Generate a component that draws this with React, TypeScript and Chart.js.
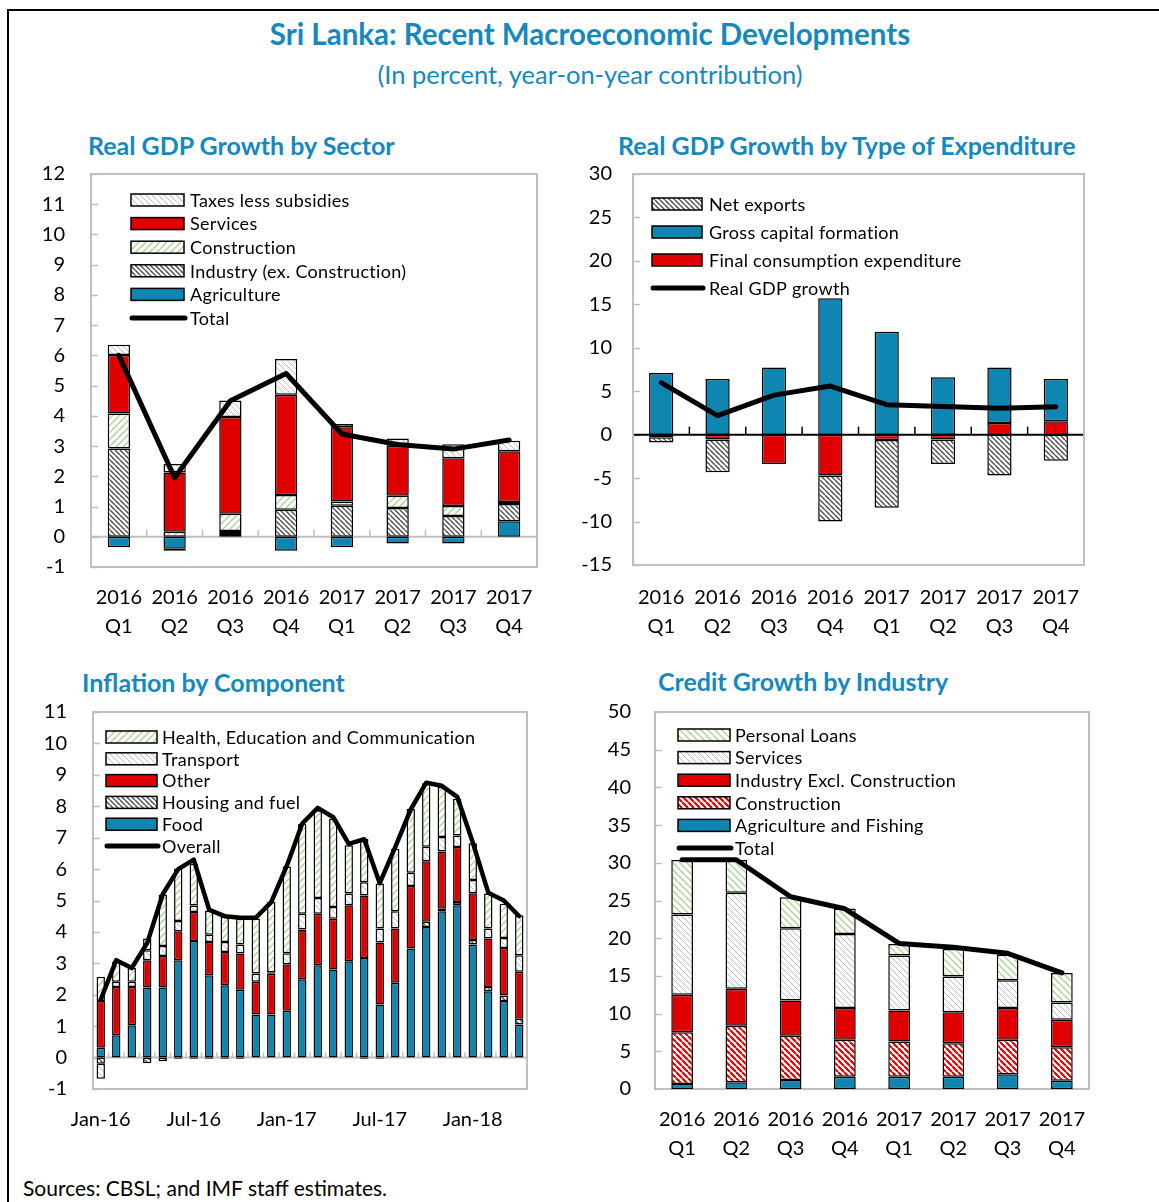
import React, { useEffect, useRef } from 'react';
import { Chart, registerables } from 'chart.js';

Chart.register(...registerables);

// ---------------- Data ----------------
const quarterYears = ['2016', '2016', '2016', '2016', '2017', '2017', '2017', '2017'];
const quarterNames = ['Q1', 'Q2', 'Q3', 'Q4', 'Q1', 'Q2', 'Q3', 'Q4'];

// Real GDP growth by sector
const sectorAgriculture = [-0.35, -0.4, 0.09, -0.46, -0.35, -0.22, -0.22, 0.51];
const sectorIndustry = [2.92, -0.06, 0.1, 0.89, 1.03, 0.95, 0.69, 0.57];
const sectorConstruction = [1.16, 0.17, 0.57, 0.49, 0.14, 0.41, 0.33, 0.07];
const sectorServices = [1.93, 1.96, 3.2, 3.32, 2.45, 1.65, 1.58, 1.68];
const sectorTaxes = [0.34, 0.28, 0.55, 1.18, 0.11, 0.24, 0.46, 0.35];
const sectorTotal = [6.0, 1.95, 4.5, 5.4, 3.4, 3.05, 2.9, 3.2];

// Real GDP growth by type of expenditure
const expFinalConsumption = [-0.3, -0.57, -3.37, -4.7, -0.6, -0.57, 1.34, 1.53];
const expCapitalFormation = [7.09, 6.4, 7.74, 15.7, 11.84, 6.6, 6.4, 4.87];
const expNetExports = [-0.6, -3.75, null, -5.3, -7.8, -2.8, -4.7, -3.0];
const expGdpGrowth = [6.0, 2.2, 4.55, 5.6, 3.45, 3.25, 3.05, 3.2];

// Inflation by component (monthly)
const months = [
  'Jan-16', 'Feb-16', 'Mar-16', 'Apr-16', 'May-16', 'Jun-16', 'Jul-16', 'Aug-16', 'Sep-16', 'Oct-16', 'Nov-16', 'Dec-16',
  'Jan-17', 'Feb-17', 'Mar-17', 'Apr-17', 'May-17', 'Jun-17', 'Jul-17', 'Aug-17', 'Sep-17', 'Oct-17', 'Nov-17', 'Dec-17',
  'Jan-18', 'Feb-18', 'Mar-18', 'Apr-18',
];
const monthTickLabels = ['Jan-16', 'Jul-16', 'Jan-17', 'Jul-17', 'Jan-18'];
const infFood = [0.31, 0.71, 1.03, 2.23, 2.23, 3.1, 3.71, 2.62, 2.3, 2.16, 1.37, 1.37, 1.49, 2.49, 2.94, 2.8, 3.07, 3.17, 1.69, 2.38, 3.47, 4.16, 4.66, 4.85, 3.6, 2.11, 1.8, 1.05];
const infHousing = [-0.2, null, null, -0.18, -0.12, -0.04, -0.04, -0.04, -0.04, -0.04, null, null, null, null, null, null, null, -0.04, -0.04, null, null, 0.16, 0.08, 0.1, 0.14, 0.14, 0.18, 0.19];
const infOther = [1.49, 1.54, 1.22, 0.87, 1.0, 0.92, 0.92, 1.06, 1.06, 1.15, 1.04, 1.3, 1.48, 1.59, 1.64, 1.62, 1.78, 1.99, 1.97, 1.73, 1.99, 1.93, 1.82, 1.75, 1.49, 1.54, 1.51, 1.49];
const infTransport = [-0.47, 0.16, 0.16, 0.32, 0.32, 0.33, 0.21, 0.23, 0.32, 0.29, 0.27, 0.05, 0.35, 0.5, 0.5, 0.37, 0.37, 0.42, 0.45, 0.55, 0.42, 0.46, 0.46, 0.37, 0.42, 0.32, 0.32, 0.53];
const infHealth = [0.77, 0.64, 0.45, 0.37, 1.64, 1.67, 1.33, 0.77, 0.8, 0.83, 1.75, 2.23, 2.76, 2.86, 2.79, 2.81, 1.54, 1.38, 1.43, 1.99, 2.04, 2.02, 1.59, 1.17, 1.17, 1.11, 1.09, 1.27];
const infOverall = [1.85, 3.1, 2.85, 3.65, 5.2, 6.0, 6.3, 4.7, 4.5, 4.45, 4.45, 4.95, 6.1, 7.45, 7.95, 7.65, 6.8, 6.95, 5.55, 6.7, 7.9, 8.75, 8.65, 8.3, 6.85, 5.25, 5.0, 4.5];

// Credit growth by industry
const crAgriculture = [0.66, 0.89, 1.2, 1.64, 1.64, 1.64, 1.95, 1.11];
const crConstruction = [6.87, 7.49, 5.85, 4.88, 4.65, 4.43, 4.57, 4.43];
const crIndustry = [4.96, 4.92, 4.7, 4.21, 4.12, 4.12, 4.21, 3.63];
const crServices = [10.64, 12.72, 9.57, 9.84, 7.31, 4.74, 3.68, 2.3];
const crPersonal = [7.23, 4.34, 4.12, 3.37, 1.51, 3.63, 3.41, 3.9];
const crTotal = [30.4, 30.4, 25.5, 23.9, 19.3, 18.8, 18.0, 15.4];

// ---------------- Styles ----------------
const FONT = "Lato, 'Open Sans', sans-serif";
const BLUE = '#0F86B2';
const RED = '#E00000';
const TITLE_COLOR = '#1589BF';
const BOX_GRAY = '#BFBFBF';

function hatch(bg: string, fg: string, lw: number, size: number, dir: 'back' | 'fwd'): CanvasPattern | string {
  const c = document.createElement('canvas');
  c.width = size;
  c.height = size;
  const ctx = c.getContext('2d');
  if (!ctx) return bg;
  ctx.fillStyle = bg;
  ctx.fillRect(0, 0, size, size);
  ctx.strokeStyle = fg;
  ctx.lineWidth = lw;
  ctx.beginPath();
  for (const o of [-size, 0, size]) {
    if (dir === 'back') {
      ctx.moveTo(o, 0);
      ctx.lineTo(o + size, size);
    } else {
      ctx.moveTo(o, size);
      ctx.lineTo(o + size, 0);
    }
  }
  ctx.stroke();
  return ctx.createPattern(c, 'repeat') || bg;
}

function makePatterns() {
  return {
    light: hatch('#FFFFFF', '#BDBDBD', 1, 6, 'back'),
    dark: hatch('#FFFFFF', '#4D4D4D', 1.4, 5, 'back'),
    greenFwd: hatch('#FFFFFF', '#A9D18E', 1.3, 7, 'fwd'),
    greenBack: hatch('#FFFFFF', '#A9D18E', 1.3, 7, 'back'),
    redHatch: hatch('#FFFFFF', RED, 2.2, 6, 'back'),
  };
}

type LegendItem = { label: string; fill?: any; kind: 'box' | 'line' };

function legendPlugin(cfg: { x: number; y: number; w: number; h: number; gap: number; textX: number; fontSize: number; items: LegendItem[] }) {
  return {
    id: 'customLegend',
    afterDraw(chart: any) {
      const ctx = chart.ctx as any;
      ctx.save();
      ctx.font = `${cfg.fontSize}px ${FONT}`;
      ctx.textBaseline = 'middle';
      ctx.textAlign = 'left';
      try { ctx.letterSpacing = '0.3px'; } catch (e) { /* ignore */ }
      cfg.items.forEach((it, i) => {
        const cy = cfg.y + i * cfg.gap;
        if (it.kind === 'line') {
          ctx.strokeStyle = '#000';
          ctx.lineWidth = 5;
          ctx.lineCap = 'round';
          ctx.beginPath();
          ctx.moveTo(cfg.x + 1, cy);
          ctx.lineTo(cfg.x + cfg.w + 1, cy);
          ctx.stroke();
        } else {
          ctx.fillStyle = it.fill;
          ctx.fillRect(cfg.x, cy - cfg.h / 2, cfg.w, cfg.h);
          ctx.strokeStyle = '#000';
          ctx.lineWidth = 1.5;
          ctx.strokeRect(cfg.x, cy - cfg.h / 2, cfg.w, cfg.h);
        }
        ctx.fillStyle = '#000';
        ctx.fillText(it.label, cfg.textX, cy + 1);
      });
      ctx.restore();
    },
  };
}

function framePlugin(cfg: { zeroColor: string; zeroWidth: number; catTicks: boolean; catTickLen: number; catTickColor: string }) {
  return {
    id: 'frameDecor',
    beforeDatasetsDraw(chart: any) {
      const ctx = chart.ctx as CanvasRenderingContext2D;
      const a = chart.chartArea;
      const xs = chart.scales.x;
      const ys = chart.scales.y;
      ctx.save();
      const seg = (x1: number, y1: number, x2: number, y2: number) => {
        ctx.beginPath();
        ctx.moveTo(x1, y1);
        ctx.lineTo(x2, y2);
        ctx.stroke();
      };
      ctx.strokeStyle = BOX_GRAY;
      ctx.lineWidth = 1.5;
      ys.ticks.forEach((t: any) => {
        const py = Math.round(ys.getPixelForValue(t.value)) + 0.5;
        seg(a.left, py, a.left + 7, py);
      });
      const zy = ys.getPixelForValue(0);
      if (cfg.catTicks) {
        ctx.strokeStyle = cfg.catTickColor;
        ctx.lineWidth = 1.5;
        const n = chart.data.labels.length;
        for (let i = 1; i < n; i++) {
          const px = (xs.getPixelForValue(i - 1) + xs.getPixelForValue(i)) / 2;
          seg(px, zy, px, zy - cfg.catTickLen);
        }
      }
      ctx.strokeStyle = cfg.zeroColor;
      ctx.lineWidth = cfg.zeroWidth;
      seg(a.left, zy, a.right, zy);
      ctx.strokeStyle = BOX_GRAY;
      ctx.lineWidth = 2;
      ctx.strokeRect(a.left, a.top, a.right - a.left, a.bottom - a.top);
      ctx.restore();
    },
  };
}

function barSet(label: string, data: (number | null)[], fill: any, pct: number) {
  return {
    type: 'bar' as const,
    label,
    data,
    backgroundColor: fill,
    borderColor: '#000',
    borderWidth: 1.5,
    borderSkipped: false,
    barPercentage: pct,
    categoryPercentage: 1,
    order: 1,
  };
}

function lineSet(label: string, data: number[], width = 5) {
  return {
    type: 'line' as const,
    label,
    data,
    borderColor: '#000',
    backgroundColor: '#000',
    borderWidth: width,
    pointRadius: 0,
    tension: 0,
    borderCapStyle: 'round',
    borderJoinStyle: 'round',
    stack: 'lineStack',
    order: 0,
  };
}

function baseOptions(o: {
  yMin: number; yMax: number; step: number; yWidth: number; xHeight: number; padTop: number; padRight: number;
  yPad: number; xPad: number; xCallback?: (v: any, i: number) => any;
}) {
  const xTicks: any = {
    color: '#000',
    font: { family: FONT, size: 20, lineHeight: 1.45 },
    padding: o.xPad,
    autoSkip: false,
    maxRotation: 0,
    minRotation: 0,
  };
  if (o.xCallback) xTicks.callback = o.xCallback;
  return {
    responsive: false,
    maintainAspectRatio: false,
    animation: false,
    devicePixelRatio: 1,
    layout: { padding: { top: o.padTop, right: o.padRight, left: 0, bottom: 0 } },
    plugins: { legend: { display: false }, tooltip: { enabled: false }, title: { display: false } },
    scales: {
      x: {
        stacked: true,
        grid: { display: false, drawTicks: false },
        border: { display: false },
        ticks: xTicks,
        afterFit: (s: any) => {
          s.height = o.xHeight;
          s.paddingLeft = 0;
          s.paddingRight = 0;
        },
      },
      y: {
        stacked: true,
        min: o.yMin,
        max: o.yMax,
        grid: { display: false, drawTicks: false },
        border: { display: false },
        ticks: { stepSize: o.step, color: '#000', font: { family: FONT, size: 20 }, padding: o.yPad },
        afterFit: (s: any) => {
          s.width = o.yWidth;
          s.paddingTop = 0;
          s.paddingBottom = 0;
        },
      },
    },
  };
}

const quarterLabels = () => quarterYears.map((y, i) => [y, quarterNames[i]]);

function sectorConfig(): any {
  const P = makePatterns();
  const pct = 0.4;
  return {
    type: 'bar',
    data: {
      labels: quarterLabels(),
      datasets: [
        barSet('Agriculture', sectorAgriculture, BLUE, pct),
        barSet('Industry (ex. Construction)', sectorIndustry, P.dark, pct),
        barSet('Construction', sectorConstruction, P.greenFwd, pct),
        barSet('Services', sectorServices, RED, pct),
        barSet('Taxes less subsidies', sectorTaxes, P.light, pct),
        lineSet('Total', sectorTotal),
      ],
    },
    options: baseOptions({ yMin: -1, yMax: 12, step: 1, yWidth: 71, xHeight: 78, padTop: 9, padRight: 13, yPad: 26, xPad: 16.5 }),
    plugins: [
      framePlugin({ zeroColor: BOX_GRAY, zeroWidth: 2, catTicks: true, catTickLen: 7, catTickColor: BOX_GRAY }),
      legendPlugin({
        x: 111, y: 35, w: 53, h: 12, gap: 23.6, textX: 170, fontSize: 18,
        items: [
          { label: 'Taxes less subsidies', fill: P.light, kind: 'box' },
          { label: 'Services', fill: RED, kind: 'box' },
          { label: 'Construction', fill: P.greenFwd, kind: 'box' },
          { label: 'Industry (ex. Construction)', fill: P.dark, kind: 'box' },
          { label: 'Agriculture', fill: BLUE, kind: 'box' },
          { label: 'Total', kind: 'line' },
        ],
      }),
    ],
  };
}

function expenditureConfig(): any {
  const P = makePatterns();
  const pct = 0.43;
  return {
    type: 'bar',
    data: {
      labels: quarterLabels(),
      datasets: [
        barSet('Final consumption expenditure', expFinalConsumption, RED, pct),
        barSet('Gross capital formation', expCapitalFormation, BLUE, pct),
        barSet('Net exports', expNetExports, P.dark, pct),
        lineSet('Real GDP growth', expGdpGrowth),
      ],
    },
    options: baseOptions({ yMin: -15, yMax: 30, step: 5, yWidth: 63, xHeight: 80, padTop: 9, padRight: 16, yPad: 21, xPad: 18.5 }),
    plugins: [
      framePlugin({ zeroColor: '#000', zeroWidth: 2, catTicks: true, catTickLen: 8, catTickColor: '#000' }),
      legendPlugin({
        x: 82, y: 39, w: 50, h: 12, gap: 28, textX: 139, fontSize: 18,
        items: [
          { label: 'Net exports', fill: P.dark, kind: 'box' },
          { label: 'Gross capital formation', fill: BLUE, kind: 'box' },
          { label: 'Final consumption expenditure', fill: RED, kind: 'box' },
          { label: 'Real GDP growth', kind: 'line' },
        ],
      }),
    ],
  };
}

function inflationConfig(): any {
  const P = makePatterns();
  const pct = 0.54;
  return {
    type: 'bar',
    data: {
      labels: months,
      datasets: [
        barSet('Food', infFood, BLUE, pct),
        barSet('Housing and fuel', infHousing, P.dark, pct),
        barSet('Other', infOther, RED, pct),
        barSet('Transport', infTransport, P.light, pct),
        barSet('Health, Education and Communication', infHealth, P.greenFwd, pct),
        lineSet('Overall', infOverall, 4.5),
      ],
    },
    options: baseOptions({
      yMin: -1, yMax: 11, step: 1, yWidth: 73, xHeight: 71, padTop: 12, padRight: 23, yPad: 26, xPad: 16.5,
      xCallback: (_v: any, i: number) => (monthTickLabels.includes(months[i]) ? months[i] : ''),
    }),
    plugins: [
      framePlugin({ zeroColor: BOX_GRAY, zeroWidth: 2, catTicks: true, catTickLen: 5, catTickColor: BOX_GRAY }),
      legendPlugin({
        x: 86, y: 37, w: 51, h: 12, gap: 21.8, textX: 142, fontSize: 18,
        items: [
          { label: 'Health, Education and Communication', fill: P.greenFwd, kind: 'box' },
          { label: 'Transport', fill: P.light, kind: 'box' },
          { label: 'Other', fill: RED, kind: 'box' },
          { label: 'Housing and fuel', fill: P.dark, kind: 'box' },
          { label: 'Food', fill: BLUE, kind: 'box' },
          { label: 'Overall', kind: 'line' },
        ],
      }),
    ],
  };
}

function creditConfig(): any {
  const P = makePatterns();
  const pct = 0.4;
  return {
    type: 'bar',
    data: {
      labels: quarterLabels(),
      datasets: [
        barSet('Agriculture and Fishing', crAgriculture, BLUE, pct),
        barSet('Construction', crConstruction, P.redHatch, pct),
        barSet('Industry Excl. Construction', crIndustry, RED, pct),
        barSet('Services', crServices, P.light, pct),
        barSet('Personal Loans', crPersonal, P.greenBack, pct),
        lineSet('Total', crTotal),
      ],
    },
    options: baseOptions({ yMin: 0, yMax: 50, step: 5, yWidth: 75, xHeight: 81, padTop: 12, padRight: 21, yPad: 24, xPad: 16.5 }),
    plugins: [
      framePlugin({ zeroColor: BOX_GRAY, zeroWidth: 2, catTicks: false, catTickLen: 0, catTickColor: BOX_GRAY }),
      legendPlugin({
        x: 98, y: 35, w: 52, h: 12, gap: 22.6, textX: 155, fontSize: 18,
        items: [
          { label: 'Personal Loans', fill: P.greenBack, kind: 'box' },
          { label: 'Services', fill: P.light, kind: 'box' },
          { label: 'Industry Excl. Construction', fill: RED, kind: 'box' },
          { label: 'Construction', fill: P.redHatch, kind: 'box' },
          { label: 'Agriculture and Fishing', fill: BLUE, kind: 'box' },
          { label: 'Total', kind: 'line' },
        ],
      }),
    ],
  };
}

function ChartPanel(props: { left: number; top: number; width: number; height: number; build: () => any }) {
  const ref = useRef<HTMLCanvasElement>(null);
  useEffect(() => {
    if (!ref.current) return;
    const chart = new Chart(ref.current, props.build());
    return () => chart.destroy();
  }, []);
  return (
    <div style={{ position: 'absolute', left: props.left, top: props.top, width: props.width, height: props.height }}>
      <canvas ref={ref} width={props.width} height={props.height} style={{ display: 'block', width: props.width, height: props.height }} />
    </div>
  );
}

const titleStyle = (left: number, top: number): React.CSSProperties => ({
  position: 'absolute', left, top, fontFamily: FONT, fontWeight: 700, fontSize: 25, lineHeight: '28px',
  color: TITLE_COLOR, whiteSpace: 'nowrap',
});

export default function App() {
  return (
    <div style={{ position: 'fixed', left: 0, top: 0, width: 1159, height: 1202, overflow: 'hidden', background: '#fff' }}>
      <div style={{ position: 'absolute', left: 7, top: 9, width: 1300, height: 1300, borderLeft: '2px solid #000', borderTop: '2px solid #000' }} />
      <div style={{ position: 'absolute', left: 0, top: 17, width: 1180, textAlign: 'center', fontFamily: FONT, fontWeight: 700, fontSize: 29.5, lineHeight: '34px', color: TITLE_COLOR }}>
        Sri Lanka: Recent Macroeconomic Developments
      </div>
      <div style={{ position: 'absolute', left: 0, top: 59, width: 1180, textAlign: 'center', fontFamily: FONT, fontSize: 25.5, lineHeight: '30px', color: TITLE_COLOR }}>
        (In percent, year-on-year contribution)
      </div>
      <div style={titleStyle(88, 131)}>Real GDP Growth by Sector</div>
      <div style={titleStyle(618, 131)}>Real GDP Growth by Type of Expenditure</div>
      <div style={titleStyle(82, 668)}>Inflation by Component</div>
      <div style={titleStyle(658, 667)}>Credit Growth by Industry</div>

      <ChartPanel left={20} top={165} width={530} height={480} build={sectorConfig} />
      <ChartPanel left={570} top={165} width={530} height={480} build={expenditureConfig} />
      <ChartPanel left={20} top={700} width={530} height={460} build={inflationConfig} />
      <ChartPanel left={580} top={700} width={530} height={470} build={creditConfig} />

      <div style={{ position: 'absolute', left: 23, top: 1175, fontFamily: FONT, fontSize: 21, lineHeight: '26px', color: '#000', whiteSpace: 'nowrap' }}>
        Sources: CBSL; and IMF staff estimates.
      </div>
    </div>
  );
}
